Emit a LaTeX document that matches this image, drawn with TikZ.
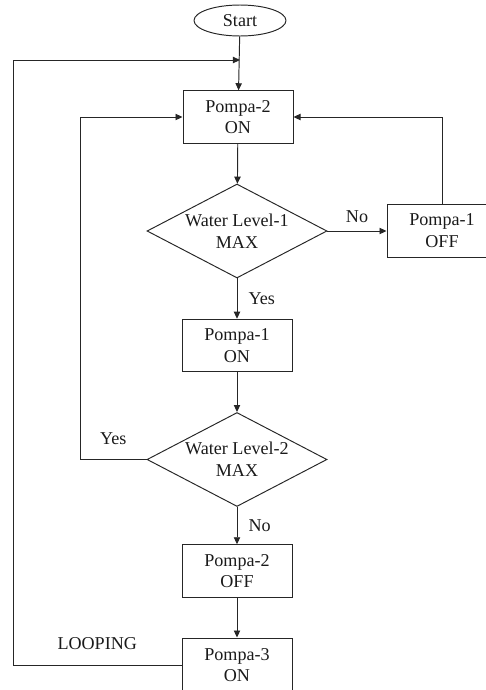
\documentclass[tikz,border=0pt]{standalone}
\usepackage{fontspec}
\setmainfont{Liberation Serif}
\usepackage{tikz}
\usetikzlibrary{arrows.meta,shapes.geometric}
\definecolor{fcline}{HTML}{262626}
\definecolor{fctext}{HTML}{1A1A1A}

\begin{document}
\begin{tikzpicture}[x=0.02cm,y=-0.02cm,line width=0.55pt,
  terminal/.style={draw=fcline,ellipse,minimum width=1.84cm,minimum height=0.62cm,inner sep=0pt,font=\fontsize{10.3}{12}\selectfont,text=fctext},
  flowbox/.style={draw=fcline,rectangle,minimum width=2.2cm,minimum height=1.05cm,inner sep=0pt,align=center,font=\fontsize{10.3}{12.4}\selectfont,text=fctext},
  decide/.style={draw=fcline,diamond,aspect=1.9,minimum width=3.6cm,minimum height=1.88cm,inner sep=0pt,align=center,font=\fontsize{10.3}{12.4}\selectfont,text=fctext},
  lbl/.style={font=\fontsize{10.3}{12}\selectfont,text=fctext},
  flowarr/.style={draw=fcline,-{Triangle[length=4pt,width=3.6pt]}}]
\useasboundingbox (0,0) rectangle (486,690);
\node[terminal] (start) at (240,20.5) {Start};
\node[flowbox] (p2on) at (238,117) {Pompa-2\\ON};
\node[decide] (lvl1) at (237,231) {Water Level-1\\MAX};
\node[flowbox] (p1off) at (442,231) {Pompa-1\\OFF};
\node[flowbox] (p1on) at (237,345.5) {Pompa-1\\ON};
\node[decide] (lvl2) at (237,459.5) {Water Level-2\\MAX};
\node[flowbox] (p2off) at (237,571) {Pompa-2\\OFF};
\node[flowbox,minimum height=1.08cm] (p3on) at (237,665) {Pompa-3\\ON};
\coordinate (looptop) at (240,60);
\coordinate (loopbl) at (13,665);
\coordinate (looptl) at (13,60);
\coordinate (yescorner) at (80,459.5);
\draw[flowarr] (start) -- (p2on);
\draw[flowarr] (p3on.west) -- node[lbl,above=5pt] {LOOPING} (loopbl) -- (looptl) -- (looptop);
\draw[flowarr] (p2on) -- (lvl1);
\draw[flowarr] (lvl1.east) -- node[lbl,above=1pt] {No} (p1off.west);
\draw[flowarr] (p1off.north) |- (p2on.east);
\draw[flowarr] (lvl1) -- node[lbl,right=3pt] {Yes} (p1on);
\draw[flowarr] (p1on) -- (lvl2);
\draw[flowarr] (lvl2.west) -- node[lbl,above=5pt] {Yes} (yescorner) |- (p2on.west);
\draw[flowarr] (lvl2) -- node[lbl,right=3pt] {No} (p2off);
\draw[flowarr] (p2off) -- (p3on);
\end{tikzpicture}
\end{document}
